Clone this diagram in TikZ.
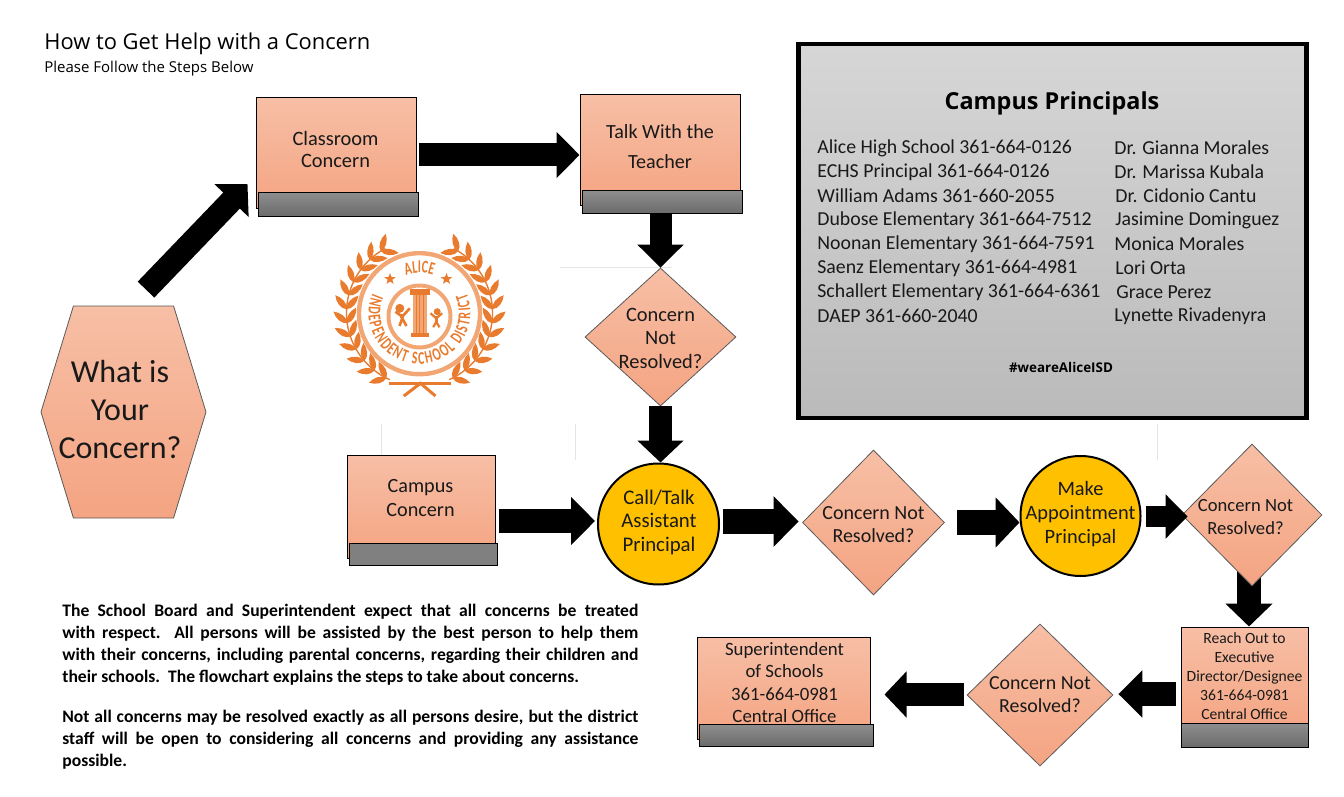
\documentclass[tikz,border=0pt]{standalone}
\usepackage{fontspec}
\setmainfont{Carlito}
\newfontfamily\segoefont{Open Sans}
\newfontfamily\logofont[FakeStretch=0.66]{Carlito}
\usetikzlibrary{shapes,positioning,calc}
\usetikzlibrary{shapes.geometric,shapes.symbols}
\usetikzlibrary{arrows.meta,backgrounds}
\usetikzlibrary{decorations.text}
\definecolor{salmontop}{HTML}{F7BFA6}
\definecolor{salmonbot}{HTML}{F4A482}
\definecolor{logoorange}{HTML}{E87B2E}
\definecolor{logoring}{HTML}{F2A673}
\definecolor{gold}{HTML}{FFC000}
\newcommand{\logostyle}{\logofont\bfseries\fontsize{9pt}{10pt}\selectfont\color{logoorange}}
\tikzstyle{concernbox} = [rectangle, draw=black, line width=0.5pt, top color=salmontop, bottom color=salmonbot, inner sep=0pt]
\tikzstyle{greybar} = [rectangle, draw=black, line width=0.5pt, top color=black!44, bottom color=black!58, inner sep=0pt]
\tikzstyle{decision} = [diamond, draw=black!65, line width=0.4pt, top color=salmontop, bottom color=salmonbot, inner sep=0pt]
\tikzstyle{goldcircle} = [circle, draw=black, line width=1pt, fill=gold, inner sep=0pt]
\tikzstyle{flowtext} = [align=center, inner sep=0pt, text=black!90]
\tikzstyle{faintline} = [black!10, line width=0.5pt]
\tikzset{blockarrow/.style n args={3}{black, line width=#1, -{Triangle[length=#2,width=#3]}}}
\tikzset{leaf/.pic={\fill[logoorange] (0,0) .. controls (4,4.5) and (12,4) .. (18,0) .. controls (12,-4) and (4,-4.5) .. (0,0);}}
\begin{document}
\begin{tikzpicture}[x=0.5pt,y=-0.5pt]
\useasboundingbox (0,0) rectangle (1344,797);
% heading
\node (title) at (44,44) [anchor=west, inner sep=0pt, font=\segoefont\fontsize{10.95pt}{13pt}\selectfont] {How to Get Help with a Concern};
\node (subtitle) at (44,69) [anchor=west, inner sep=0pt, font=\segoefont\fontsize{7.5pt}{9pt}\selectfont] {Please Follow the Steps Below};
% faint marks
\draw[faintline] (560,267) -- (672,267);
\draw[faintline] (381,424) -- (381,455);
\draw[faintline] (575,424) -- (575,460);
\draw[faintline] (1157,424) -- (1157,460);
% first row
\node (hex) at (123.5,412) [signal, signal to=east and west, signal pointer angle=146, draw=black!65, line width=0.4pt, top color=salmontop, bottom color=salmonbot, inner sep=0pt, minimum width=82.5pt, minimum height=106pt] {};
\node (hextext) at (120,409.5) [flowtext, font=\fontsize{16pt}{19pt}\selectfont] {What is\\Your\\Concern?};
\node (classroom) at (336,153) [concernbox, minimum width=80pt, minimum height=55pt] {};
\node (classroomtext) at (335.5,149.5) [flowtext, font=\fontsize{10.2pt}{11pt}\selectfont] {Classroom\\Concern};
\node (classroombar) at (338,204) [greybar, minimum width=80pt, minimum height=12pt] {};
\node (talk) at (660,150) [concernbox, minimum width=80pt, minimum height=55pt] {};
\node (talktext) at (660,147) [flowtext, font=\fontsize{10.05pt}{15pt}\selectfont] {Talk With the\\Teacher};
\node (talkbar) at (662,201.5) [greybar, minimum width=80pt, minimum height=11.5pt] {};
\node (dnot) at (660.5,337) [decision, minimum width=75.5pt, minimum height=69pt] {};
\node (dnottext) at (660.5,338) [flowtext, font=\fontsize{10.2pt}{11.75pt}\selectfont] {Concern\\Not\\Resolved?};
% second row
\node (campus) at (421,506.5) [concernbox, minimum width=74pt, minimum height=51.5pt] {};
\node (campustext) at (420.5,498) [flowtext, font=\fontsize{10.1pt}{12pt}\selectfont] {Campus\\Concern};
\node (campusbar) at (423,554) [rectangle, draw=black, line width=0.5pt, fill=black!50, inner sep=0pt, minimum width=74pt, minimum height=11pt] {};
\node (conea) at (658.5,524) [goldcircle, minimum size=60.5pt] {};
\node (coneatext) at (659,522) [flowtext, font=\fontsize{10.4pt}{11.75pt}\selectfont] {Call/Talk\\Assistant\\Principal};
\node (dtwo) at (873.5,522.5) [decision, minimum width=71pt, minimum height=72.5pt] {};
\node (dtwotext) at (873.5,525) [flowtext, font=\fontsize{10pt}{11.5pt}\selectfont] {Concern Not\\Resolved?};
\node (coneb) at (1080.5,516) [goldcircle, minimum size=60pt] {};
\node (conebtext) at (1080.5,514) [flowtext, font=\fontsize{10.2pt}{12pt}\selectfont] {Make\\Appointment\\Principal};
\node (dthree) at (1252,515) [decision, minimum width=70pt, minimum height=71pt] {};
\node (dthreetext) at (1245.5,517.5) [flowtext, font=\fontsize{9.3pt}{11.5pt}\selectfont] {Concern Not\\Resolved?};
% third row
\node (reach) at (1244.5,681) [concernbox, minimum width=63.5pt, minimum height=54pt] {};
\node (reachtext) at (1244.5,676.5) [flowtext, font=\fontsize{7.8pt}{9.5pt}\selectfont] {Reach Out to\\Executive\\Director/Designee\\361-664-0981\\Central Office};
\node (reachbar) at (1244.5,735) [greybar, minimum width=63.5pt, minimum height=12pt] {};
\node (dfour) at (1040,695) [decision, minimum width=73pt, minimum height=71pt] {};
\node (dfourtext) at (1040,695) [flowtext, font=\fontsize{9.95pt}{11.5pt}\selectfont] {Concern Not\\Resolved?};
\node (sup) at (783.5,688) [concernbox, minimum width=86.5pt, minimum height=51pt] {};
\node (suptext) at (784.5,682.5) [flowtext, font=\fontsize{9.4pt}{11.2pt}\selectfont] {Superintendent\\of Schools\\361-664-0981\\Central Office};
\node (supbar) at (786,735) [greybar, minimum width=87pt, minimum height=11pt] {};
% arrows
\draw[blockarrow={11.5pt}{11.5pt}{23pt}] ([xshift=11.25pt,yshift=8pt]hex.north) -- ([xshift=-4pt,yshift=-15.5pt]classroom.west);
\draw[blockarrow={11.5pt}{11.5pt}{22.5pt}] ([xshift=1pt,yshift=-1pt]classroom.east) -- ([yshift=-2.5pt]talk.west);
\draw[blockarrow={11pt}{11.5pt}{22.5pt}] ([xshift=-0.75pt]talkbar.south) -- (dnot.north);
\draw[blockarrow={11.5pt}{11pt}{22.5pt}] (dnot.south) -- ([xshift=1pt]conea.north);
\draw[blockarrow={12pt}{12pt}{23.5pt}] ([xshift=1.5pt,yshift=-7.25pt]campus.east) -- ([xshift=-1pt,yshift=1.5pt]conea.west);
\draw[blockarrow={12.5pt}{12.5pt}{24.5pt}] ([xshift=1.5pt,yshift=1.25pt]conea.east) -- ([xshift=-1.75pt,yshift=0.5pt]dtwo.west);
\draw[blockarrow={12.5pt}{12pt}{24.5pt}] ([xshift=6.25pt]dtwo.east) -- ([yshift=-3.25pt]coneb.west);
\draw[blockarrow={10.5pt}{11pt}{21.5pt}] ([xshift=2pt,yshift=-0.25pt]coneb.east) -- ([xshift=3pt,yshift=-0.75pt]dthree.west);
\begin{scope}[on background layer]
\draw[blockarrow={12pt}{11.5pt}{23pt}] ([xshift=-1.5pt,yshift=8pt]dthree.south) -- ([xshift=2.25pt]reach.north);
\end{scope}
\draw[blockarrow={12pt}{12pt}{23pt}] ([xshift=-2.5pt,yshift=-6.5pt]reach.west) -- ([xshift=2.5pt,yshift=0.5pt]dfour.east);
\draw[blockarrow={11.5pt}{11pt}{22.5pt}] ([xshift=-1.5pt,yshift=0.25pt]dfour.west) -- ([xshift=7pt,yshift=-3.25pt]sup.east);
% principals panel
\node (panel) at (1052.5,231) [rectangle, draw=black, line width=2.2pt, top color=black!16, bottom color=black!27, inner sep=0pt, minimum width=254pt, minimum height=187pt] {};
\node (paneltitle) at (1052,103) [inner sep=0pt, font=\segoefont\bfseries\fontsize{11.7pt}{14pt}\selectfont] {Campus Principals};
\foreach \row/\y/\campusline/\xname/\principal in {
  a/148/Alice High School 361-664-0126/1114/Dr. Gianna Morales,
  b/172/ECHS Principal 361-664-0126/1114/Dr. Marissa Kubala,
  c/196/William Adams 361-660-2055/1115/Dr. Cidonio Cantu,
  d/220/Dubose Elementary 361-664-7512/1115/Jasimine Dominguez,
  e/244/Noonan Elementary 361-664-7591/1114/Monica Morales,
  f/268/Saenz Elementary 361-664-4981/1115/Lori Orta,
  g/292/Schallert Elementary 361-664-6361/1116/Grace Perez,
  h/316/DAEP 361-660-2040/1114/Lynette Rivadenyra}
{
  \node (campus\row) at (817,\y) [anchor=west, inner sep=0pt, text=black!90, font=\fontsize{9.9pt}{11pt}\selectfont] {\campusline};
  \node (principal\row) at (\xname,\y) [anchor=west, inner sep=0pt, text=black!90, font=\fontsize{9.9pt}{11pt}\selectfont] {\principal};
}
\node (hashtag) at (1061,367) [inner sep=0pt, font=\segoefont\bfseries\fontsize{6.7pt}{8pt}\selectfont] {\#weareAliceISD};
% notes
\node (noteone) at (62,603.5) [anchor=north west, inner sep=0pt, text width=288pt, align=justify, font=\bfseries\fontsize{8.8pt}{11pt}\selectfont] {The School Board and Superintendent expect that all concerns be treated\linebreak with respect.\ \ All persons will be assisted by the best person to help them\linebreak with their concerns, including parental concerns, regarding their children and\linebreak their schools.\ \ The flowchart explains the steps to take about concerns.};
\node (notetwo) at (62,710) [anchor=north west, inner sep=0pt, text width=288pt, align=justify, font=\bfseries\fontsize{8.8pt}{11pt}\selectfont] {Not all concerns may be resolved exactly as all persons desire, but the district\linebreak staff will be open to considering all concerns and providing any assistance\linebreak possible.};
% logo
\begin{scope}[shift={(419.5,313)},x=0.5pt,y=0.5pt]
\draw[logoorange, line width=0.7pt] (118:73) arc (118:246:73);
\draw[logoorange, line width=0.7pt] (62:73) arc (62:-66:73);
\foreach \a in {122,133,...,243} {
  \pic[rotate=\a-90+42] at (\a:73) {leaf};
  \pic[rotate=\a-90-38] at (\a:73) {leaf};
  \pic[rotate=270-\a-42] at ({180-\a}:73) {leaf};
  \pic[rotate=270-\a+38] at ({180-\a}:73) {leaf};
}
\draw[logoorange, line width=1.3pt] (-31,-70.3) -- (31,-70.3);
\draw[logoorange, line width=1.5pt] (-15.7,-83) -- (1,-70.3) -- (16,-83);
\draw[logoring, line width=2.2pt] (0,-0.7) circle (60.5);
\draw[logoring, line width=2pt] (0,-3.5) circle (31);
\path[decorate, decoration={text along path, text align=center, text={|\logostyle|ALICE}}] (135:40) arc (135:45:40);
\path[decorate, decoration={text along path, text align=fit to path, text={|\logostyle|INDEPENDENT SCHOOL DISTRICT}}] (157:51) arc (157:383:51);
\node (stara) at (-29.5,34) [star, star points=5, star point ratio=2.4, fill=logoorange, inner sep=0pt, minimum size=6pt] {};
\node (starb) at (27,34) [star, star points=5, star point ratio=2.4, fill=logoorange, inner sep=0pt, minimum size=6pt] {};
\fill[logoorange] (-9.7,24) rectangle (10.3,18);
\fill[logoring] (-6.3,18) rectangle (7,-20.3);
\foreach \sx in {-3.5,0,3.5} {\draw[logoorange, line width=0.4pt] (\sx,18) -- (\sx,-20.3);}
\fill[logoorange] (-9,-20.3) rectangle (9.3,-24.3);
\fill[logoorange] (-19.7,4.7) circle (4.5);
\draw[logoorange, line width=1.3pt, line join=round] (-24,1.3) -- (-17.3,-3.7) -- (-9.7,4.7);
\draw[logoorange, line width=1.8pt, line join=round] (-17.3,-1) -- (-17.3,-5.3);
\draw[logoorange, line width=1.3pt, line join=round] (-20,-13) -- (-17.3,-5.3) -- (-13,-13);
\fill[logoorange] (17.7,1.3) circle (3.5);
\draw[logoorange, line width=1.1pt, line join=round] (11,-0.3) -- (16.7,-5.3) -- (22.7,-0.3);
\draw[logoorange, line width=1.6pt, line join=round] (16.7,-3) -- (16.7,-8.7);
\draw[logoorange, line width=1.1pt, line join=round] (13.7,-14.3) -- (16.7,-8.7) -- (20,-14.3);
\end{scope}
\end{tikzpicture}
\end{document}
